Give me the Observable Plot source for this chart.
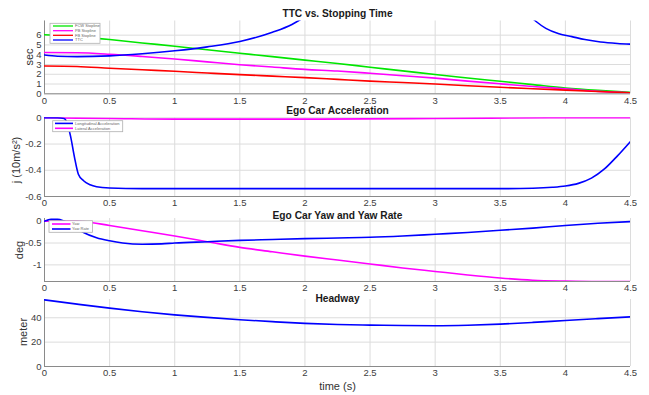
<!DOCTYPE html>
<html>
<head>
<meta charset="utf-8">
<script src="https://cdn.jsdelivr.net/npm/d3@7"></script>
<script src="https://cdn.jsdelivr.net/npm/@observablehq/plot@0.6"></script>
<style>
  html, body { margin: 0; padding: 0; background: #fff; }
  #chart { position: relative; width: 649px; height: 395px; background: #fff; overflow: hidden;
           font-family: "Liberation Sans", Arial, sans-serif; }
  #chart svg { position: absolute; left: 0; overflow: visible; }
</style>
</head>
<body>
<div id="chart"></div>
<script>
// ---------------- DATA ----------------
const xTicks = [0, 0.5, 1, 1.5, 2, 2.5, 3, 3.5, 4, 4.5];

// Panel 1: TTC vs. Stopping Time (sec)
const tStop = [0, 0.25, 0.5, 0.75, 1, 1.25, 1.5, 1.75, 2, 2.25, 2.5, 2.75, 3, 3.25, 3.5, 3.75, 4, 4.25, 4.5];
const fcwStop = [6.05, 5.85, 5.55, 5.2, 4.87, 4.5, 4.15, 3.8, 3.45, 3.1, 2.72, 2.35, 1.97, 1.62, 1.28, 0.94, 0.6, 0.35, 0.15];
const pbStop  = [4.22, 4.2, 4.05, 3.82, 3.56, 3.27, 2.98, 2.74, 2.5, 2.33, 2.1, 1.85, 1.6, 1.3, 1.02, 0.75, 0.5, 0.25, 0.1];
const fbStop  = [2.85, 2.8, 2.62, 2.46, 2.3, 2.13, 1.96, 1.81, 1.66, 1.48, 1.3, 1.15, 1.0, 0.83, 0.67, 0.52, 0.38, 0.24, 0.1];
const tTTC = [0, 0.1, 0.25, 0.5, 0.75, 1, 1.25, 1.5, 1.75, 1.9, 2.0, 2.1, 2.5, 3.5, 3.7, 3.77, 3.85, 3.95, 4.05, 4.15, 4.27, 4.4, 4.5];
const ttc  = [3.97, 3.85, 3.8, 3.88, 4.1, 4.4, 4.8, 5.35, 6.3, 7.1, 7.9, 9.0, NaN, NaN, 8.3, 7.45, 6.7, 6.15, 5.85, 5.55, 5.3, 5.15, 5.08];
const stopTicks = [0, 1, 2, 3, 4, 5, 6];
const stopNames = ["FCW Stopline", "PB Stopline", "FB Stopline", "TTC"];

// Panel 2: Ego Car Acceleration
const tAcc = [0, 0.1, 0.15, 0.17, 0.2, 0.23, 0.26, 0.3, 0.35, 0.4, 0.5, 0.75, 1, 1.5, 2, 2.5, 3, 3.5, 3.75, 3.9, 4, 4.1, 4.2, 4.3, 4.4, 4.5];
const longAcc = [0, 0, -0.005, -0.03, -0.14, -0.3, -0.43, -0.48, -0.51, -0.525, -0.535, -0.54, -0.54, -0.54, -0.54, -0.54, -0.54, -0.54, -0.537, -0.53, -0.52, -0.5, -0.46, -0.39, -0.29, -0.18];
const tLat = [0, 0.5, 1, 2, 3, 4, 4.5];
const latAcc = [0, -0.005, -0.01, -0.01, -0.005, 0, 0];
const accTicks = [0, -0.2, -0.4, -0.6];
const accNames = ["Longitudinal Acceleration", "Lateral Acceleration"];

// Panel 3: Yaw and Yaw Rate (deg)
const tYaw = [0, 0.25, 0.3, 0.5, 0.75, 1, 1.25, 1.5, 1.75, 2, 2.25, 2.5, 2.75, 3, 3.25, 3.5, 3.75, 4, 4.25, 4.5];
const yaw  = [0, 0, -0.01, -0.1, -0.22, -0.34, -0.47, -0.6, -0.7, -0.8, -0.89, -0.98, -1.07, -1.15, -1.23, -1.3, -1.35, -1.37, -1.38, -1.38];
const tRate = [0, 0.05, 0.1, 0.15, 0.2, 0.25, 0.3, 0.4, 0.5, 0.6, 0.75, 0.9, 1, 1.25, 1.5, 1.75, 2, 2.25, 2.5, 2.75, 3, 3.25, 3.5, 3.75, 4, 4.25, 4.5];
const yawRate = [0, 0.04, 0.04, 0, -0.07, -0.17, -0.26, -0.38, -0.45, -0.5, -0.53, -0.52, -0.5, -0.47, -0.44, -0.42, -0.4, -0.385, -0.37, -0.34, -0.3, -0.26, -0.21, -0.16, -0.1, -0.05, -0.01];
const yawTicks = [0, -0.5, -1];
const yawNames = ["Yaw", "Yaw Rate"];

// Panel 4: Headway (meter)
const tHead = [0, 0.25, 0.5, 0.75, 1, 1.25, 1.5, 1.75, 2, 2.25, 2.5, 2.75, 3, 3.25, 3.5, 3.75, 4, 4.25, 4.5];
const headway = [54.7, 51.2, 47.9, 45, 42.4, 40.3, 38.4, 36.8, 35.4, 34.5, 34, 33.6, 33.5, 33.9, 34.8, 36.2, 37.8, 39.3, 40.8];
const headTicks = [0, 20, 40];

const GREEN = "#00e600", MAGENTA = "#ff00ff", RED = "#ff0000", BLUE = "#0000ff";

// ---------------- DRAW ----------------
const chart = document.getElementById("chart");
const W = 649, ML = 44, MR = 19;
const FONT = "Liberation Sans, Arial, sans-serif";
const toRows = (ts, vs) => ts.map((t, i) => ({t, v: vs[i]}));

function panel(o) {
  const marks = [
    Plot.gridX(xTicks, {stroke: "#dcdcdc", strokeOpacity: 1}),
    Plot.gridY(o.yTicks, {stroke: "#dcdcdc", strokeOpacity: 1}),
    Plot.axisX(xTicks, {tickSize: 0, tickPadding: 3, tickFormat: d => String(d), fill: "#404040", label: null, fontSize: 9.5}),
    Plot.axisY(o.yTicks, {tickSize: 0, tickPadding: 3, tickFormat: d => String(d), fill: "#404040", label: null, fontSize: 9.5}),
    Plot.ruleX([0], {stroke: "#8a8a8a"}),
    Plot.ruleY([o.yDomain[0]], {stroke: "#8a8a8a"}),
    ...o.series.map(s => Plot.line(toRows(s.t, s.v), {x: "t", y: "v", stroke: s.color, strokeWidth: 1.6,
        curve: "monotone-x", clip: true})),
    Plot.text([o.title], {frameAnchor: "top", lineAnchor: "middle", dy: o.titleDy, text: d => d,
        fontWeight: "bold", fontSize: 10.2, fill: "#1a1a1a"})
  ];
  if (o.xlabel) marks.push(Plot.text([o.xlabel], {frameAnchor: "bottom", lineAnchor: "middle", dy: 20,
        text: d => d, fontSize: 11, fill: "#333"}));
  const svg = Plot.plot({
    width: W, height: o.height,
    marginLeft: ML, marginRight: MR, marginTop: o.mt, marginBottom: o.mb,
    x: {domain: [0, 4.5]},
    y: {domain: o.yDomain},
    style: {fontSize: "9.5px", fontFamily: FONT, background: "transparent", overflow: "visible"},
    marks
  });
  svg.style.top = o.top + "px";
  chart.appendChild(svg);
}

panel({top: 0, height: 107, mt: 20.5, mb: 13.7, yDomain: [0, 7.45], yTicks: stopTicks,
  title: "TTC vs. Stopping Time", titleDy: -7.5,
  series: [{t: tStop, v: fcwStop, color: GREEN}, {t: tStop, v: pbStop, color: MAGENTA},
           {t: tStop, v: fbStop, color: RED}, {t: tTTC, v: ttc, color: BLUE}]});

panel({top: 107, height: 103, mt: 10.3, mb: 14, yDomain: [-0.6, 0], yTicks: accTicks,
  title: "Ego Car Acceleration", titleDy: -7,
  series: [{t: tLat, v: latAcc, color: MAGENTA}, {t: tAcc, v: longAcc, color: BLUE}]});

panel({top: 210, height: 85, mt: 8, mb: 14, yDomain: [-1.38, 0.06], yTicks: yawTicks,
  title: "Ego Car Yaw and Yaw Rate", titleDy: -2.8,
  series: [{t: tYaw, v: yaw, color: MAGENTA}, {t: tRate, v: yawRate, color: BLUE}]});

panel({top: 295, height: 100, mt: 4, mb: 29, yDomain: [0, 55], yTicks: headTicks,
  title: "Headway", titleDy: -1.2, xlabel: "time (s)",
  series: [{t: tHead, v: headway, color: BLUE}]});

// ---------------- Y LABELS & LEGENDS (overlay) ----------------
const over = d3.select(chart).append("svg")
  .attr("width", W).attr("height", 395).style("top", "0px").style("pointer-events", "none")
  .attr("font-family", FONT);

const yLabels = ["sec", "j (10m/s²)", "deg", "meter"];
const yLabelPos = [[29, 57], [16, 160], [19, 250], [23, 332]];
yLabels.forEach((l, i) => {
  over.append("text")
    .attr("transform", `translate(${yLabelPos[i][0]},${yLabelPos[i][1]}) rotate(-90)`)
    .attr("text-anchor", "middle").attr("dy", "0.35em")
    .attr("font-size", 11).attr("fill", "#333").text(l);
});

function legend(box, names, colors, rowY, lineX0, lineX1, textX, lw) {
  over.append("rect").attr("x", box[0]).attr("y", box[1]).attr("width", box[2] - box[0]).attr("height", box[3] - box[1])
    .attr("fill", "#fff").attr("stroke", "#b0b0b0").attr("stroke-width", 0.8);
  names.forEach((n, i) => {
    over.append("line").attr("x1", lineX0).attr("x2", lineX1).attr("y1", rowY[i]).attr("y2", rowY[i])
      .attr("stroke", colors[i]).attr("stroke-width", lw);
    over.append("text").attr("x", textX).attr("y", rowY[i]).attr("dy", "0.35em").text(n)
      .attr("font-size", 4).attr("fill", "#666");
  });
}
legend([50, 23.3, 100, 43.3], stopNames, [GREEN, MAGENTA, RED, BLUE], [26, 30.7, 35.3, 40], 53, 73, 75, 1.3);
legend([52.7, 120.7, 122.7, 131.7], accNames, [BLUE, MAGENTA], [123.4, 128.3], 55, 73, 75, 1.6);
legend([49, 220.7, 92.5, 232.3], yawNames, [MAGENTA, BLUE], [224, 229], 52, 70.5, 72, 1.6);
</script>
</body>
</html>
